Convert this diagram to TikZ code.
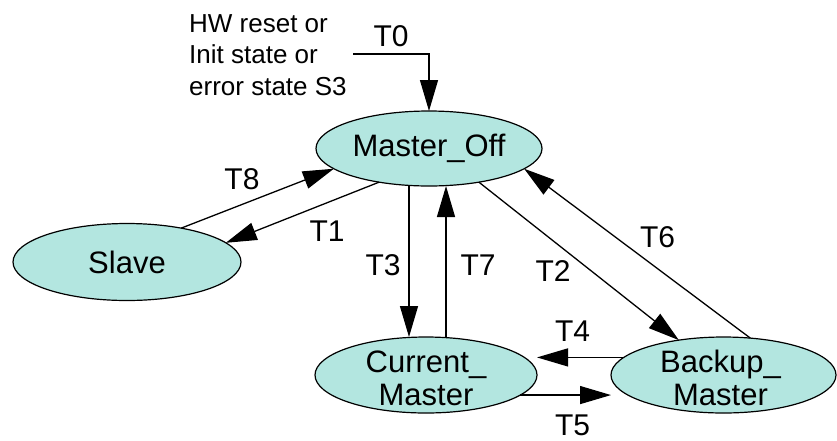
\documentclass[tikz,border=0pt]{standalone}
\usepackage{fontspec}
\setmainfont{Liberation Sans}
\usetikzlibrary{shapes.geometric,arrows.meta}
\definecolor{statefill}{RGB}{179,230,224}
\begin{document}
\begin{tikzpicture}[x=1pt,y=-1pt,
  state/.style={draw=black, line width=1.2pt, fill=statefill, ellipse, inner sep=0pt, outer sep=0pt},
  stext/.style={font=\fontsize{31}{33}\selectfont, align=center, inner sep=0pt},
  lbl/.style={font=\fontsize{30}{32}\selectfont, inner sep=0pt},
  arr/.style={line width=1.3pt, -{Triangle[length=31pt,width=18pt]}}]
\useasboundingbox (0,0) rectangle (837,440);
\node[state, minimum width=226pt, minimum height=75pt] (mo) at (429,148.5) {};
\node[state, minimum width=228pt, minimum height=77pt] (sl) at (127,262) {};
\node[state, minimum width=222pt, minimum height=76pt] (cm) at (426,375) {};
\node[state, minimum width=225pt, minimum height=76pt] (bm) at (723.5,375) {};
\node[stext] at (mo) {Master\_Off};
\node[stext] at (sl) {Slave};
\node[stext] at ([yshift=-3pt]cm.center) {Current\_\\Master};
\node[stext] at ([xshift=-3pt,yshift=-3pt]bm.center) {Backup\_\\Master};
\node[anchor=north west, align=left, inner sep=0pt, font=\fontsize{26}{31.5}\selectfont] (src) at (189,14) {HW reset or\\Init state or\\error state S3};
\coordinate (t0) at (353,54);
\draw[arr] (t0) -| (mo.north);
\draw[arr] (sl.32) -- (mo.192);
\draw[arr] (mo.214) -- (sl.11);
\draw[arr] ([xshift=-20pt]mo.south) -- ([xshift=-20pt]mo.south |- cm.north);
\draw[arr] ([xshift=17pt]mo.south |- cm.north) -- ([xshift=17pt]mo.south);
\draw[arr] (mo.-34) -- (bm.142);
\draw[arr] (bm.54) -- (mo.-12);
\draw[arr] (bm.170) -- (bm.170 -| cm.east);
\draw[arr] (cm.-12) -- (cm.-12 -| bm.west);
\node[lbl] at (391,36.5) {T0};
\node[lbl] at (242,179) {T8};
\node[lbl] at (327,231.5) {T1};
\node[lbl] at (383,265) {T3};
\node[lbl] at (478,265) {T7};
\node[lbl] at (553,271) {T2};
\node[lbl] at (657.5,237) {T6};
\node[lbl] at (572.5,331) {T4};
\node[lbl] at (572.5,425) {T5};
\end{tikzpicture}
\end{document}
